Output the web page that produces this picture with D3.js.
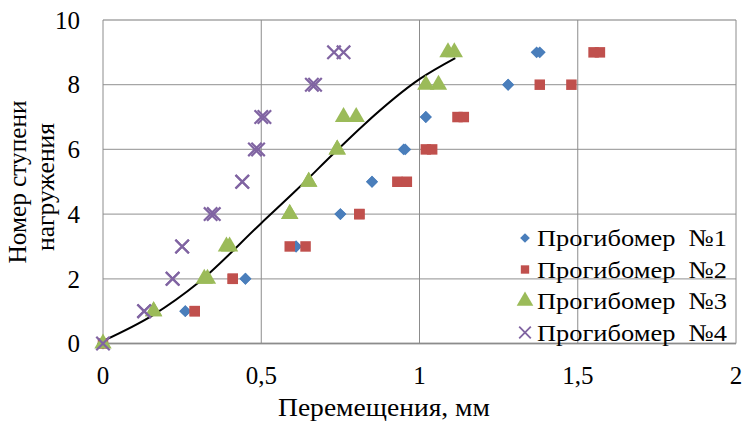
<!DOCTYPE html>
<html>
<head>
<meta charset="utf-8">
<script src="https://cdn.jsdelivr.net/npm/d3@7"></script>
<style>
  body { margin: 0; background: #fff; }
  svg text { font-family: "Liberation Serif", "Times New Roman", Times, "Tinos", "Noto Serif", "DejaVu Serif", "FreeSerif", serif; fill: #000; }
</style>
</head>
<body>
<div id="chart"></div>
<script>
// Load steps (same for every gauge)
const steps = [0, 1, 1, 2, 2, 3, 3, 4, 4, 5, 5, 6, 6, 7, 7, 8, 8, 9, 9];

// Displacements, mm (two readings per step)
const gauge1 = [0, 0.26, 0.26, 0.45, 0.45, 0.61, 0.61, 0.75, 0.75, 0.85, 0.85, 0.95, 0.955, 1.02, 1.02, 1.28, 1.28, 1.37, 1.38];
const gauge2 = [0, 0.29, 0.29, 0.41, 0.41, 0.59, 0.64, 0.81, 0.81, 0.93, 0.96, 1.02, 1.04, 1.12, 1.14, 1.38, 1.48, 1.55, 1.57];
const gauge3 = [0, 0.16, 0.16, 0.32, 0.33, 0.39, 0.40, 0.59, 0.59, 0.65, 0.65, 0.74, 0.74, 0.76, 0.80, 1.02, 1.06, 1.09, 1.11];
const gauge4 = [0, 0.13, 0.13, 0.22, 0.22, 0.25, 0.25, 0.34, 0.35, 0.44, 0.44, 0.48, 0.49, 0.50, 0.51, 0.66, 0.67, 0.73, 0.76];

// Trend line
const trendX = [0, 0.158, 0.3, 0.5, 0.612, 0.74, 0.823, 1.0, 1.113];
const trendY = [0.08, 0.88, 1.87, 3.72, 4.75, 5.98, 6.75, 8.17, 8.82];

const xTicks = [0, 0.5, 1, 1.5, 2];
const yTicks = [0, 2, 4, 6, 8, 10];
const seriesNames = ["Прогибомер  №1", "Прогибомер  №2", "Прогибомер  №3", "Прогибомер  №4"];
const colors = ["#4A7EBB", "#C0504D", "#9BBB59", "#8064A2"];
const symbols = [d3.symbolDiamond2, d3.symbolSquare, d3.symbolTriangle, d3.symbolTimes];

const width = 743, height = 423;
const margin = { top: 20, right: 7, bottom: 79.5, left: 103 };

const svg = d3.select("#chart").append("svg")
    .attr("width", width)
    .attr("height", height);

const x = d3.scaleLinear().domain([0, 2]).range([margin.left, width - margin.right]);
const y = d3.scaleLinear().domain([0, 10]).range([height - margin.bottom, margin.top]);

// Grid
svg.append("g").selectAll("line")
    .data(yTicks)
    .enter().append("line")
    .attr("x1", x(0)).attr("x2", x(2))
    .attr("y1", d => y(d)).attr("y2", d => y(d))
    .style("stroke", "#a6a6a6").style("stroke-width", 1.3);

svg.append("g").selectAll("line")
    .data(xTicks)
    .enter().append("line")
    .attr("x1", d => x(d)).attr("x2", d => x(d))
    .attr("y1", y(0)).attr("y2", y(10))
    .style("stroke", "#8c8c8c").style("stroke-width", 1);

svg.append("line")
    .attr("x1", x(0)).attr("x2", x(2))
    .attr("y1", y(0)).attr("y2", y(0))
    .style("stroke", "#8c8c8c").style("stroke-width", 1.3);

// Tick labels
svg.append("g").selectAll("text")
    .data(yTicks)
    .enter().append("text")
    .attr("x", 80)
    .attr("y", d => y(d))
    .attr("dy", "0.35em")
    .style("text-anchor", "end")
    .style("font-size", "25px")
    .text(d => d);

svg.append("g").selectAll("text")
    .data(xTicks)
    .enter().append("text")
    .attr("x", d => x(d))
    .attr("y", 384)
    .style("text-anchor", "middle")
    .style("font-size", "25px")
    .text(d => String(d).replace(".", ","));

// Axis titles
svg.append("text")
    .attr("x", 384)
    .attr("y", 416)
    .style("text-anchor", "middle")
    .style("font-size", "25px")
    .attr("textLength", 212)
    .attr("lengthAdjust", "spacingAndGlyphs")
    .text("Перемещения, мм");

svg.append("text")
    .attr("transform", "translate(26, 182) rotate(-90)")
    .style("text-anchor", "middle")
    .style("font-size", "25px")
    .attr("textLength", 163)
    .attr("lengthAdjust", "spacingAndGlyphs")
    .text("Номер ступени");

svg.append("text")
    .attr("transform", "translate(54, 187) rotate(-90)")
    .style("text-anchor", "middle")
    .style("font-size", "25px")
    .attr("textLength", 128)
    .attr("lengthAdjust", "spacingAndGlyphs")
    .text("нагружения");

// Trend line
const trend = trendX.map((d, i) => [d, trendY[i]]);
svg.append("path")
    .datum(trend)
    .attr("d", d3.line().x(d => x(d[0])).y(d => y(d[1])).curve(d3.curveMonotoneX))
    .style("fill", "none")
    .style("stroke", "#000")
    .style("stroke-width", 2);

// Markers
const allSeries = [gauge1, gauge2, gauge3, gauge4];
const sizes = [90, 110, 130, 120];

allSeries.forEach((vals, k) => {
    const pts = vals.map((v, i) => [v, steps[i]]);
    const sym = d3.symbol().type(symbols[k]).size(sizes[k]);
    svg.append("g").selectAll("path")
        .data(pts)
        .enter().append("path")
        .attr("transform", d => `translate(${x(d[0])},${y(d[1])})`)
        .attr("d", sym)
        .style("fill", k === 3 ? "none" : colors[k])
        .style("stroke", k === 3 ? colors[k] : "none")
        .style("stroke-width", 2.2);
});

// Legend
const legend = svg.append("g");
const legendSizes = [60, 70, 120, 90];
seriesNames.forEach((name, k) => {
    const ly = 238 + k * 31.5;
    const sym = d3.symbol().type(symbols[k]).size(legendSizes[k]);
    legend.append("path")
        .attr("transform", `translate(525,${ly})`)
        .attr("d", sym)
        .style("fill", k === 3 ? "none" : colors[k])
        .style("stroke", k === 3 ? colors[k] : "none")
        .style("stroke-width", 1.8);
    legend.append("text")
        .attr("x", 537)
        .attr("y", ly)
        .attr("dy", "0.35em")
        .style("font-size", "24px")
        .attr("xml:space", "preserve")
        .attr("textLength", 190)
        .attr("lengthAdjust", "spacingAndGlyphs")
        .text(name);
});
</script>
</body>
</html>
